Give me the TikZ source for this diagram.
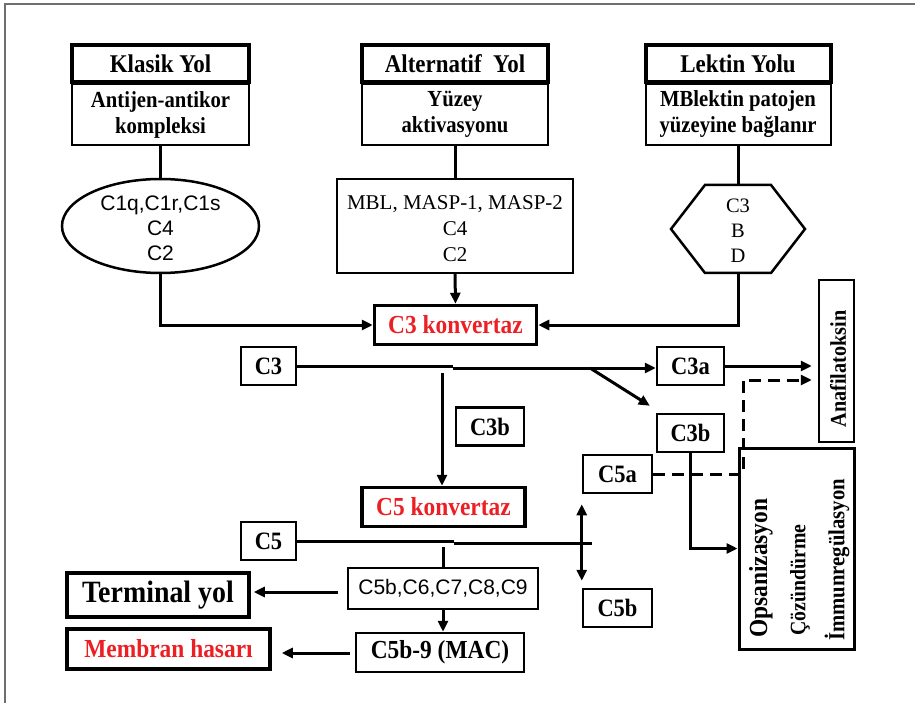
\documentclass[tikz,border=0pt]{standalone}
\usepackage{fontspec}
\setmainfont{Liberation Serif}
\newfontfamily\tnb{Liberation Serif}[FakeStretch=0.9]
\newfontfamily\arl{Liberation Sans}
\usetikzlibrary{arrows.meta,shapes.geometric,calc}
\definecolor{konv}{RGB}{236,32,36}
\definecolor{framegray}{RGB}{110,110,110}

\begin{document}
\begin{tikzpicture}[x=1pt,y=-1pt,
  every node/.style={inner sep=0pt},
  hdr/.style={draw, line width=4pt, minimum height=37pt,
    font=\tnb\bfseries\fontsize{25.5}{28}\selectfont},
  subbox/.style={draw, line width=2pt, minimum height=61pt, align=center,
    font=\tnb\bfseries\fontsize{23}{26}\selectfont},
  cbox/.style={draw, line width=2.5pt, minimum height=38pt,
    font=\tnb\bfseries\fontsize{25}{28}\selectfont},
  konvbox/.style={draw, line width=3.5pt, minimum height=39pt, text=konv,
    font=\tnb\bfseries\fontsize{26}{28}\selectfont},
  vtext/.style={rotate=90, anchor=west, font=\tnb\bfseries\fontsize{#1}{#1}\selectfont},
  link/.style={line width=3pt},
  arr/.style={line width=3pt, -{Triangle[length=11pt,width=10pt]}},
]
\useasboundingbox (0,0) rectangle (915,703);
\draw[framegray, line width=2pt] (5,703) -- (5,4) -- (915,4);

% --- the three pathways ---
\node[hdr, minimum width=177pt] (kh) at (160.5,63.5) {Klasik Yol};
\node[subbox, minimum width=177pt] (ks) at (160.5,114.5) {Antijen-antikor\\kompleksi};
\node[hdr, minimum width=186pt] (ah) at (455,63.5) {Alternatif\ \ Yol};
\node[subbox, minimum width=186pt] (as) at (455,114.5) {Yüzey\\aktivasyonu};
\node[hdr, minimum width=185pt] (lh) at (738,63.5) {Lektin Yolu};
\node[subbox, minimum width=185pt] (ls) at (738,114.5) {MBlektin patojen\\yüzeyine bağlanır};

% classical components
\node[draw, ellipse, line width=2.5pt, minimum width=197pt, minimum height=94pt] (kc) at (160.5,226) {};
\node[align=center, font=\arl\fontsize{21}{25}\selectfont] (kct) at ($(kc.center)+(0,2)$) {C1q,C1r,C1s\\C4\\C2};

% alternative components
\node[draw, line width=2pt, minimum width=236pt, minimum height=94pt] (ac) at (455,226) {};
\node[align=center, font=\fontsize{21}{26}\selectfont] (act) at ($(ac.center)+(0,3)$) {MBL, MASP-1, MASP-2\\C4\\C2};

% lectin components (hexagon)
\node[minimum width=134pt, minimum height=88pt, align=center,
  font=\fontsize{20.5}{25}\selectfont] (lc) at (738,231) {C3\\B\\D};
\coordinate (lcn) at (738,185);
\coordinate (lcs) at (738,273);
\draw[line width=2.5pt] (671,229) -- (705,185) -- (771,185) -- (805,229) -- (771,273) -- (705,273) -- cycle;

\node[konvbox, minimum width=162pt] (c3k) at (455.5,325) {C3 konvertaz};

\draw[link] (ks.south) -- (kc.north);
\draw[link] (as.south) -- (ac.north);
\draw[link] (ls.south) -- (lcn);
\draw[arr] (kc.south) |- (c3k.west);
\draw[arr] (ac.south) -- (c3k.north);
\draw[arr] (lcs) |- (c3k.east);

% --- C3 cleavage ---
\node[cbox, minimum width=55pt] (c3) at (268.5,366) {C3};
\node[cbox, minimum width=67pt] (c3a) at (690.5,366) {C3a};
\node[cbox, minimum width=67pt] (c3bR) at (690.5,433) {C3b};
\node[cbox, minimum width=68pt] (c3bM) at (490,426.5) {C3b};
\node[draw, line width=2.5pt, minimum width=35pt, minimum height=162pt] (ana) at (836.5,361) {};
\node[vtext=22.5, anchor=center] (anat) at (838,369) {Anafilatoksin};

\coordinate (c3step) at (453,368);
\coordinate (c3fork) at (590,368);
\coordinate (c3drop) at (442,373);
\draw[link] (c3.east) -- (c3.east -| c3step);
\draw[arr] (c3step) -- (c3step -| c3a.west);
\draw[arr] (c3fork) -- ($(c3bR.north west)+(-6,-7)$);
\draw[arr, shorten >=6pt] (c3a.east) -- (c3a.east -| ana.west);

% --- C5 convertase ---
\node[konvbox, minimum width=163pt] (c5k) at (443.5,507) {C5 konvertaz};
\draw[arr] (c3drop) -- (c3drop |- c5k.north);

\node[cbox, minimum width=55pt] (c5) at (268.5,541) {C5};
\node[cbox, minimum width=69pt] (c5a) at (617.5,474) {C5a};
\node[cbox, minimum width=69pt] (c5b) at (617.5,608) {C5b};

\coordinate (c5step) at (454,543);
\coordinate (c5end) at (592,543);
\coordinate (c5drop) at (443,547);
\draw[link] (c5.east) -- (c5.east -| c5step);
\draw[link] (c5step) -- (c5end);
\draw[line width=3pt, {Triangle[length=11pt,width=10pt]}-{Triangle[length=11pt,width=10pt]}]
  ($(c5a.south west)+(0,10)$) -- ($(c5b.north west)+(0,-7)$);

% --- terminal pathway ---
\node[draw, line width=2pt, minimum width=190pt, minimum height=41pt,
  font=\arl\fontsize{21}{24}\selectfont] (cx) at (443,588.5) {C5b,C6,C7,C8,C9};
\node[cbox, minimum width=168pt, minimum height=39pt,
  font=\tnb\bfseries\fontsize{26}{28}\selectfont] (mac) at (440,652.5) {C5b-9 (MAC)};
\node[draw, line width=3.5pt, minimum width=182pt, minimum height=44pt,
  font=\tnb\bfseries\fontsize{31}{33}\selectfont] (ty) at (158,595) {Terminal yol};
\node[konvbox, minimum width=203pt, minimum height=40pt] (mh) at (168.5,649) {Membran hasarı};

\coordinate (tyfrom) at (338,592);
\coordinate (mhfrom) at (350,653);
\draw[link] (c5drop) -- (cx.north);
\draw[arr, shorten >=3pt] (tyfrom) -- (tyfrom -| ty.east);
\draw[arr] (cx.south) -- (cx.south |- mac.north);
\draw[arr, shorten >=10pt] (mhfrom) -- (mhfrom -| mh.east);

% --- effector functions ---
\node[draw, line width=3pt, minimum width=115pt, minimum height=201pt] (ops) at (796.5,548.5) {};
\node[vtext=26] (opst1) at (761,638) {Opsanizasyon};
\node[vtext=22] (opst2) at (800,636) {Çözündürme};
\node[vtext=23] (opst3) at (837,641) {İmmunregülasyon};

\coordinate (dashcorner) at (743,380);
\draw[line width=3pt, dash pattern=on 12pt off 7pt, -{Triangle[length=11pt,width=10pt]}, shorten >=6pt]
  (c5a.east) -| (dashcorner) -- (dashcorner -| ana.west);
\draw[arr] (c3bR.south) |- (ops.west);
\end{tikzpicture}
\end{document}
